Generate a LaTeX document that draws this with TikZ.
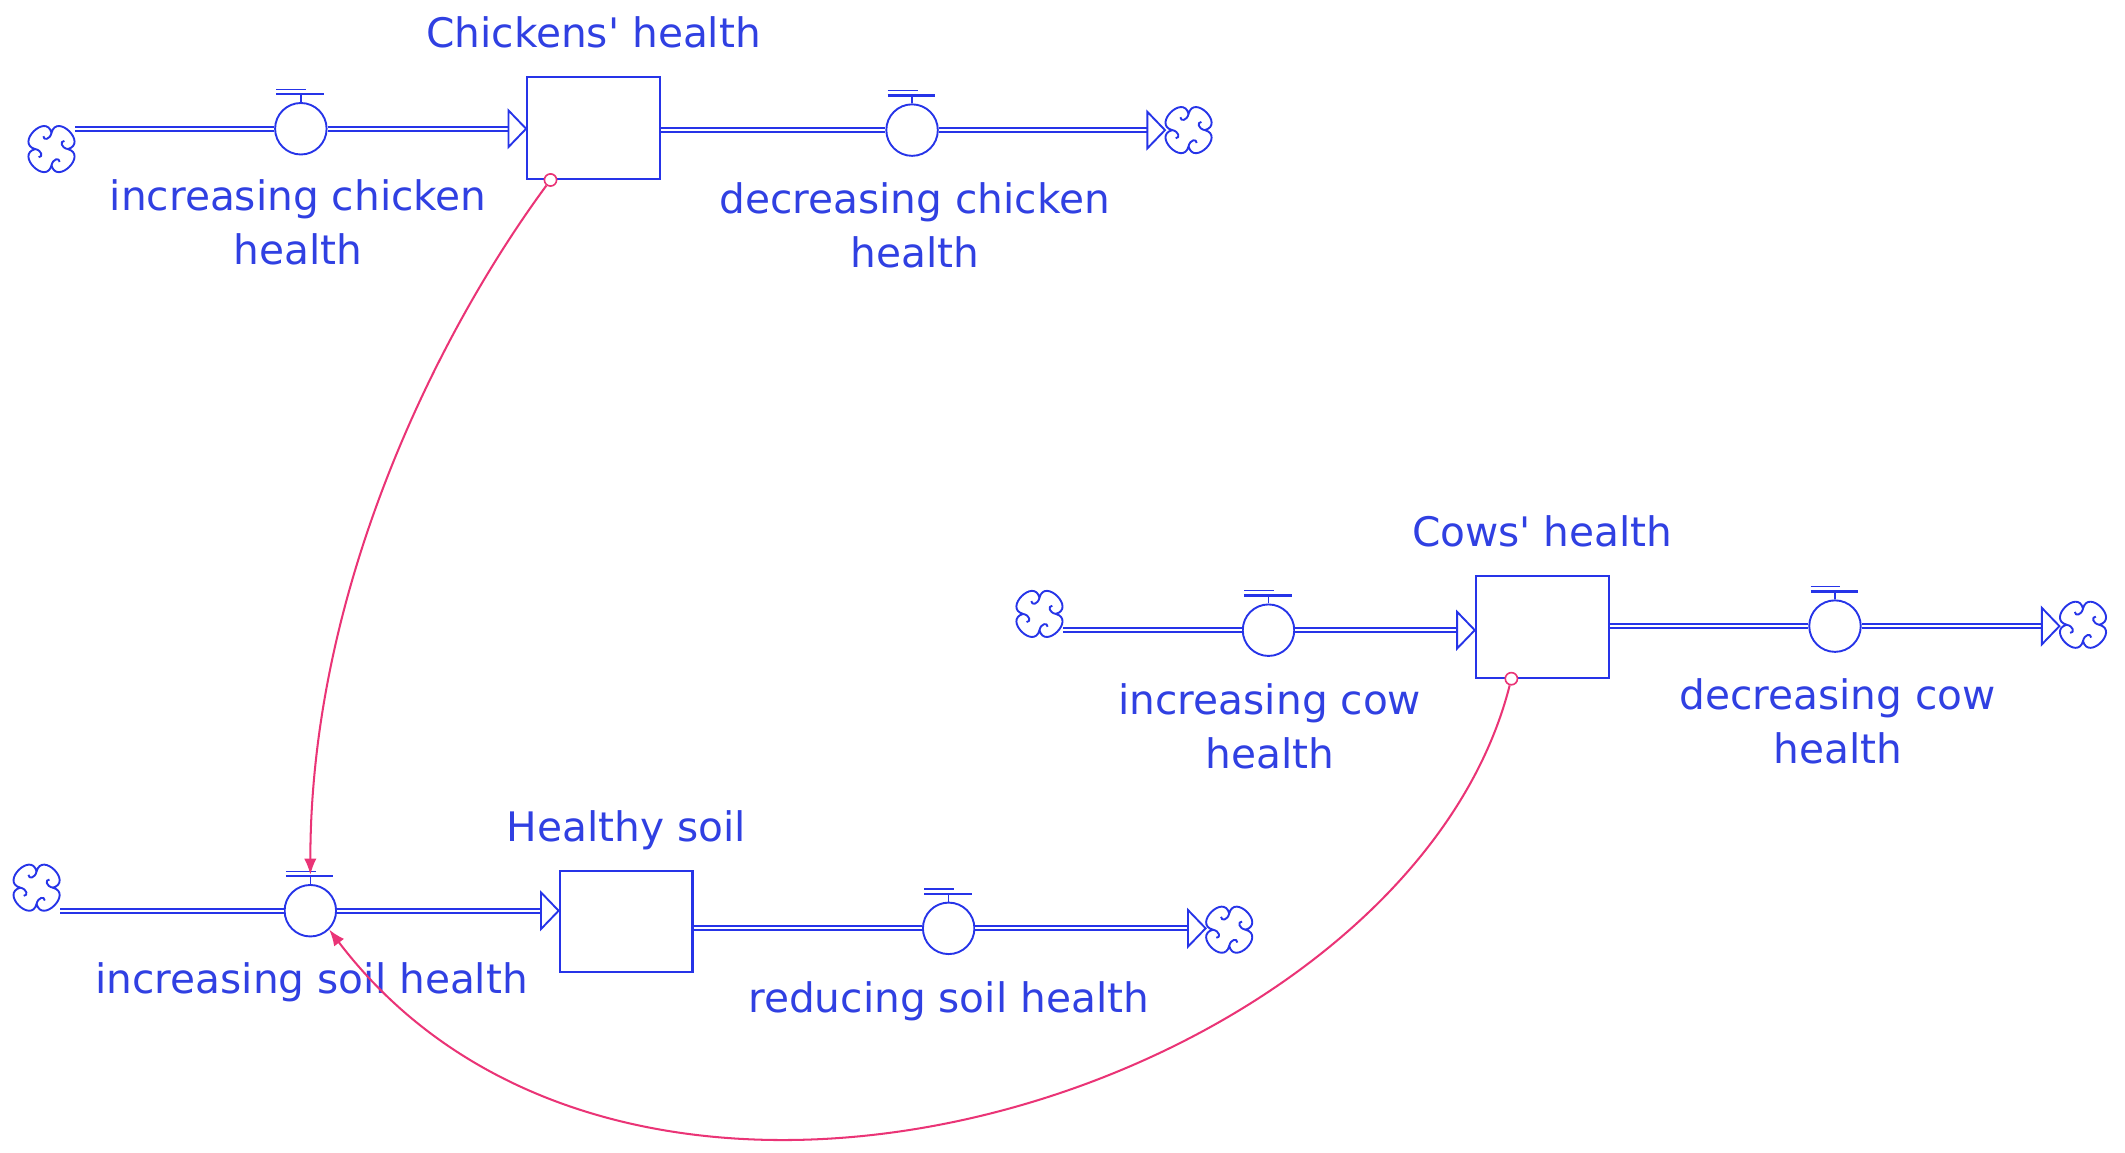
\documentclass[tikz,border=0pt]{standalone}
\usepackage{fontspec}
\setmainfont{DejaVu Sans}
\usetikzlibrary{arrows.meta,calc}

\definecolor{flowblue}{RGB}{38,52,232}
\definecolor{labelblue}{RGB}{48,64,226}
\definecolor{linkpink}{RGB}{234,52,118}

\tikzset{
  stockbox/.style={draw=flowblue, line width=0.8pt, rectangle, minimum width=49pt,
    minimum height=37.5pt, inner sep=0pt, fill=white},
  valvecirc/.style={draw=flowblue, circle, line width=0.7pt, minimum size=19pt,
    inner sep=0pt, fill=white},
  cloudspot/.style={minimum width=17pt, minimum height=17.5pt, inner sep=0pt},
  cloudline/.style={draw=flowblue, line width=0.7pt, line join=round},
  pipe/.style={draw=flowblue, double=white, line width=0.7pt, double distance=0.8pt},
  flowtip/.style={draw=flowblue, fill=white, line width=0.7pt, line join=miter},
  label/.style={text=labelblue, font=\fontsize{15pt}{20pt}\selectfont, inner sep=0pt,
    align=center},
  link/.style={draw=linkpink, line width=0.75pt, -{Latex[length=6pt,width=4.6pt]}},
  linkorigin/.style={draw=linkpink, circle, fill=white, line width=0.6pt,
    minimum size=4.5pt, inner sep=0pt},
}

% valve: circle, stem, handle bar and a short tick; #1-top is the top of the handle
\newcommand\flowvalve[2]{%
  \node[valvecirc] (#1) at (#2) {};
  \draw[flowblue, line width=0.6pt] (#1.north) -- ++(0,-6.5);
  \draw[flowblue, line width=0.9pt] ($(#1.center)+(-18,-25.5)$) -- ++(35,0);
  \draw[flowblue, line width=0.45pt] ($(#1.center)+(-18,-29)$) -- ++(22,0);
  \coordinate (#1-top) at ($(#1.center)+(0,-26.5)$);
}
% open triangular head of a flow pipe, apex at #1
\newcommand\flowhead[1]{%
  \draw[flowtip] (#1) -- ++(-13,-13.5) -- ++(0,27) -- cycle;
}
% source / sink cloud: four lobes with a small curl at each notch
\newcommand\flowcloud[2]{%
  \node[cloudspot] (#1) at (#2) {};
  \draw[cloudline, shift={(#1.center)}]
    (0,-12) .. controls (4,-27) and (27,-4) .. (12,0)
            .. controls (27,4) and (4,27) .. (0,12)
            .. controls (-4,27) and (-27,4) .. (-12,0)
            .. controls (-27,-4) and (-4,-27) .. cycle;
  \foreach \r in {0,90,180,270}
    \draw[cloudline, shift={(#1.center)}, rotate=\r]
      (0,-12) .. controls (-1,-7) and (-6,-6) .. (-6,-9.5);
}

\begin{document}
\begin{tikzpicture}[x=0.5pt, y=-0.5pt]
\useasboundingbox (0,0) rectangle (1568,850.7);

% ---------- chickens ----------
\flowcloud{cA}{38,110}
\node[stockbox] (sA) at (438,94.5) {};
\flowcloud{cB}{877,96}
\flowvalve{vA}{222,95}
\flowvalve{vB}{673,96}
\coordinate (aA) at (sA.west |- vA);
\coordinate (aB) at (cB.west |- vB);
\draw[pipe] (cA.east |- vA) -- (vA.west);
\draw[pipe] (vA.east) -- ($(aA)+(-13,0)$);
\flowhead{aA}
\draw[pipe] (sA.east |- vB) -- (vB.west);
\draw[pipe] (vB.east) -- ($(aB)+(-13,0)$);
\flowhead{aB}
\node[label, anchor=base] (lsA) at (438,35) {Chickens\textquotesingle{} health};
\node[label, anchor=north] (lvA) at (220,132.2) {increasing chicken\\health};
\node[label, anchor=north] (lvB) at (675,134.2) {decreasing chicken\\health};

% ---------- cows ----------
\flowcloud{cC}{767,453}
\node[stockbox] (sC) at (1138,462.5) {};
\flowcloud{cD}{1537,461}
\flowvalve{vC}{936,465}
\flowvalve{vD}{1354,462}
\coordinate (aC) at (sC.west |- vC);
\coordinate (aD) at (cD.west |- vD);
\draw[pipe] (cC.east |- vC) -- (vC.west);
\draw[pipe] (vC.east) -- ($(aC)+(-13,0)$);
\flowhead{aC}
\draw[pipe] (sC.east |- vD) -- (vD.west);
\draw[pipe] (vD.east) -- ($(aD)+(-13,0)$);
\flowhead{aD}
\node[label, anchor=base] (lsC) at (1138,403) {Cows\textquotesingle{} health};
\node[label, anchor=north] (lvC) at (937,504.2) {increasing cow\\health};
\node[label, anchor=north] (lvD) at (1356,500.2) {decreasing cow\\health};

% ---------- soil ----------
\flowcloud{cE}{27,655}
\node[stockbox] (sE) at (462,680) {};
\flowcloud{cF}{907,686}
\flowvalve{vE}{229,672}
\flowvalve{vF}{700,685}
\coordinate (aE) at (sE.west |- vE);
\coordinate (aF) at (cF.west |- vF);
\draw[pipe] (cE.east |- vE) -- (vE.west);
\draw[pipe] (vE.east) -- ($(aE)+(-13,0)$);
\flowhead{aE}
\draw[pipe] (sE.east |- vF) -- (vF.west);
\draw[pipe] (vF.east) -- ($(aF)+(-13,0)$);
\flowhead{aF}
\node[label, anchor=base] (lsE) at (462,621) {Healthy soil};
\node[label, anchor=base] (lvE) at (230,733) {increasing soil health};
\node[label, anchor=base] (lvF) at (700,747) {reducing soil health};

% ---------- information links ----------
\node[linkorigin] (oA) at ($(sA.south west)+(18,0)$) {};
\node[linkorigin] (oC) at ($(sC.south west)+(27,0)$) {};
\draw[link] (oA) .. controls +(-80,108.5) and +(0,-215) .. (vE-top);
\draw[link] (oC) .. controls +(-76,300) and +(228,300) .. (vE.south east);
\end{tikzpicture}
\end{document}
